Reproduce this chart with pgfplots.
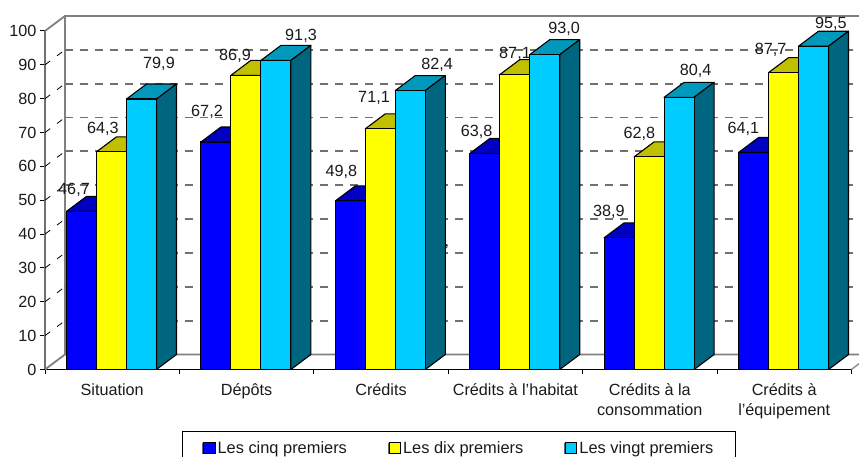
\documentclass[border=0pt]{standalone}
\usepackage{fontspec}
\setmainfont{Liberation Sans}
\usepackage{pgfplots}
\pgfplotsset{compat=1.18}
\definecolor{txt}{HTML}{1A1A1A}
\definecolor{cA}{HTML}{0000FF}\definecolor{cAt}{HTML}{0000C0}
\definecolor{cB}{HTML}{FFFF00}\definecolor{cBt}{HTML}{C0C000}
\definecolor{cC}{HTML}{00CCFF}\definecolor{cCt}{HTML}{0099BB}\definecolor{cCs}{HTML}{006680}
\definecolor{wallc}{HTML}{808080}\definecolor{gridc}{HTML}{707070}
\newcommand\fnt{\fontsize{16.2}{20}\selectfont}
\newcommand\fntl{\fontsize{16.4}{20}\selectfont}
\def\hw{0.1116}\def\dxx{0.1488}\def\dyy{4.431}
\newcommand\topface[3]{%
  \pgfmathsetmacro\xa{#1-\hw}\pgfmathsetmacro\xb{#1+\hw}%
  \pgfmathsetmacro\xc{#1+\hw+\dxx}\pgfmathsetmacro\xd{#1-\hw+\dxx}\pgfmathsetmacro\vt{#2+\dyy}%
  \edef\temp{\noexpand\addplot[forget plot,fill=#3,draw=black,line width=1.1pt,line join=round] coordinates {(\xa,#2) (\xb,#2) (\xc,\vt) (\xd,\vt)} --cycle;}\temp}
\newcommand\sideface[3]{%
  \pgfmathsetmacro\xb{#1+\hw}\pgfmathsetmacro\xc{#1+\hw+\dxx}\pgfmathsetmacro\vt{#2+\dyy}%
  \edef\temp{\noexpand\addplot[forget plot,fill=#3,draw=black,line width=1.1pt,line join=round] coordinates {(\xb,0) (\xc,\dyy) (\xc,\vt) (\xb,#2)} --cycle;}\temp}
\newcommand\gridl[1]{%
  \pgfmathsetmacro\vt{#1+\dyy}%
  \edef\temp{\noexpand\addplot[forget plot,gridc,line width=1.8pt,dash pattern=on 8pt off 7pt] coordinates {(\dxx,\vt) (6.3,\vt)};}\temp
  \edef\temp{\noexpand\addplot[forget plot,black,line width=0.8pt,dash pattern=on 6.5pt off 8.5pt] coordinates {(0,#1) (\dxx,\vt)};}\temp}
\begin{document}
\begin{tikzpicture}
\path[use as bounding box,clip] (-45pt,-87.5pt) rectangle (814pt,369.5pt);
\begin{axis}[
  scale only axis, width=806.4pt, height=338.5pt,
  xmin=0, xmax=6, ymin=0, ymax=100,
  clip=false,
  axis x line=bottom, axis y line=left,
  x axis line style={-,black,line width=1pt},
  y axis line style={-,gridc,line width=1.8pt},
  tick align=outside, major tick length=5pt, minor tick length=5pt,
  ytick={0,10,...,100},
  xtick={0.5,1.5,2.5,3.5,4.5,5.5},
  minor xtick={0,1,2,3,4,5,6},
  xticklabels={Situation,Dépôts,Crédits,{Crédits à l'habitat},{Crédits à la\\consommation},{Crédits à\\l'équipement}},
  major x tick style={draw=none},
  minor x tick style={black,line width=0.8pt},
  y tick style={black,line width=1pt},
  xticklabel style={font=\fnt,text=txt,align=center,yshift=-6pt},
  yticklabel style={font=\fnt,text=txt},
  /pgf/number format/assume math mode=true,
  legend columns=3,
  legend style={
    at={(axis cs:1.0193,-18.17)},anchor=north west,
    draw=black,line width=1pt,font=\fntl,text=txt,
    /tikz/every even column/.style={column sep=39pt},
    inner xsep=20pt,inner ysep=8pt,
  },
  legend cell align=left,
  legend image code/.code={
    \fill[black!60] (0pt,-5.5pt) rectangle (11pt,5pt);
    \draw[#1,line width=1pt,draw=black] (0.5pt,-5pt) rectangle (12pt,6pt);
  },
]
% walls
\addplot[forget plot,wallc,line width=1.8pt] coordinates {(0,100) (\dxx,104.431) (6.3,104.431)};
\addplot[forget plot,wallc,line width=1.8pt] coordinates {(\dxx,104.431) (\dxx,4.431)};
\addplot[forget plot,wallc,line width=1.8pt] coordinates {(0,0) (\dxx,4.431) (6.3,4.431)};
\addplot[forget plot,wallc,line width=1.2pt] coordinates {(6,0) (6.1488,4.431)};
\gridl{10}\gridl{20}\gridl{30}\gridl{40}\gridl{50}\gridl{60}\gridl{70}\gridl{80}\gridl{90}
% les cinq premiers
\topface{0.2716}{46.7}{cAt}\topface{1.2716}{67.2}{cAt}\topface{2.2716}{49.8}{cAt}
\topface{3.2716}{63.8}{cAt}\topface{4.2716}{38.9}{cAt}\topface{5.2716}{64.1}{cAt}
\addplot[ybar,bar width=30pt,bar shift=0pt,fill=cA,draw=black,line width=1.1pt] coordinates
  {(0.2716,46.7) (1.2716,67.2) (2.2716,49.8) (3.2716,63.8) (4.2716,38.9) (5.2716,64.1)};
\addlegendentry{Les cinq premiers}
% les dix premiers
\topface{0.4948}{64.3}{cBt}\topface{1.4948}{86.9}{cBt}\topface{2.4948}{71.1}{cBt}
\topface{3.4948}{87.1}{cBt}\topface{4.4948}{62.8}{cBt}\topface{5.4948}{87.7}{cBt}
\addplot[ybar,bar width=30pt,bar shift=0pt,fill=cB,draw=black,line width=1.1pt] coordinates
  {(0.4948,64.3) (1.4948,86.9) (2.4948,71.1) (3.4948,87.1) (4.4948,62.8) (5.4948,87.7)};
\addlegendentry{Les dix premiers}
% les vingt premiers
\topface{0.7180}{79.9}{cCt}\topface{1.7180}{91.3}{cCt}\topface{2.7180}{82.4}{cCt}
\topface{3.7180}{93.0}{cCt}\topface{4.7180}{80.4}{cCt}\topface{5.7180}{95.5}{cCt}
\sideface{0.7180}{79.9}{cCs}\sideface{1.7180}{91.3}{cCs}\sideface{2.7180}{82.4}{cCs}
\sideface{3.7180}{93.0}{cCs}\sideface{4.7180}{80.4}{cCs}\sideface{5.7180}{95.5}{cCs}
\addplot[ybar,bar width=30pt,bar shift=0pt,fill=cC,draw=black,line width=1.1pt] coordinates
  {(0.7180,79.9) (1.7180,91.3) (2.7180,82.4) (3.7180,93.0) (4.7180,80.4) (5.7180,95.5)};
\addlegendentry{Les vingt premiers}
% value labels
\addplot[forget plot,draw=none,point meta=explicit symbolic,nodes near coords,
  every node near coord/.append style={anchor=center,inner sep=0pt,font=\fnt,text=txt}]
  table[meta=lab] {
x y lab
0.2158 53.03 46,7
0.4315 71.05 64,3
0.8482 90.25 79,9
1.2054 76.07 67,2
1.4137 92.61 86,9
1.9048 98.52 91,3
2.206 58.35 49,8
2.448 80.2 71,1
2.917 89.96 82,4
3.212 70.25 63,8
3.497 93.2 87,1
3.862 100.6 93,0
4.196 46.5 38,9
4.422 69.6 62,8
4.841 88.3 80,4
5.196 71.05 64,1
5.399 94.3 87,7
5.848 102.2 95,5
2.991 36.2 ,
};
\end{axis}
\end{tikzpicture}
\end{document}
